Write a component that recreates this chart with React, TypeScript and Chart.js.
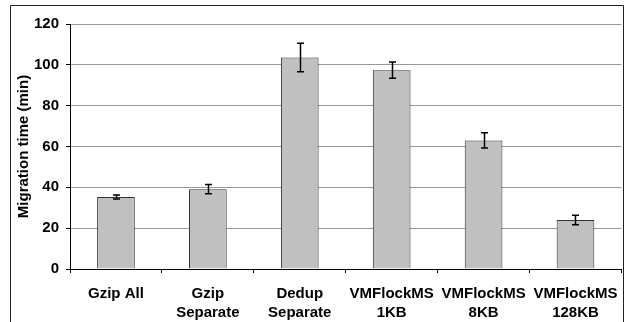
import React, { useEffect, useRef } from "react";
import { Chart, registerables } from "chart.js";

Chart.register(...registerables);

const categories: string[][] = [
  ["Gzip All"],
  ["Gzip", "Separate"],
  ["Dedup", "Separate"],
  ["VMFlockMS", "1KB"],
  ["VMFlockMS", "8KB"],
  ["VMFlockMS", "128KB"],
];
const migrationTime: number[] = [35.3, 39.1, 103.6, 97.4, 63.0, 24.0];
const errorMargin: number[] = [1.0, 2.3, 7.0, 4.0, 3.7, 2.3];
const yTicks = { min: 0, max: 120, step: 20 };
const yTitle = "Migration time (min)";

const FONT = "'Liberation Sans', Arial, Helvetica, sans-serif";

const framePlugin = {
  id: "frame",
  afterDraw(chart: any) {
    const ctx = chart.ctx;
    ctx.save();
    ctx.strokeStyle = "#222222";
    ctx.lineWidth = 1;
    ctx.beginPath();
    ctx.moveTo(10.5, 330);
    ctx.lineTo(10.5, 5.5);
    ctx.lineTo(623.5, 5.5);
    ctx.lineTo(623.5, 330);
    ctx.stroke();
    ctx.restore();
  },
};

const errorBarPlugin = {
  id: "errorBars",
  afterDatasetsDraw(chart: any) {
    const ctx = chart.ctx;
    const meta = chart.getDatasetMeta(0);
    const yScale = chart.scales.y;
    ctx.save();
    ctx.strokeStyle = "#000000";
    ctx.lineWidth = 1.5;
    meta.data.forEach((bar: any, i: number) => {
      const v = migrationTime[i];
      const e = errorMargin[i];
      const x = Math.round(bar.x) + 0.5;
      const yHi = yScale.getPixelForValue(v + e);
      const yLo = yScale.getPixelForValue(v - e);
      const cap = 3.5;
      ctx.beginPath();
      ctx.moveTo(x, yHi);
      ctx.lineTo(x, yLo);
      ctx.moveTo(x - cap, yHi);
      ctx.lineTo(x + cap, yHi);
      ctx.moveTo(x - cap, yLo);
      ctx.lineTo(x + cap, yLo);
      ctx.stroke();
    });
    ctx.restore();
  },
};

export default function App() {
  const canvasRef = useRef<HTMLCanvasElement | null>(null);

  useEffect(() => {
    if (!canvasRef.current) return;
    const chart = new Chart(canvasRef.current, {
      type: "bar",
      data: {
        labels: categories,
        datasets: [
          {
            data: migrationTime,
            backgroundColor: "#c0c0c0",
            borderColor: "#333333",
            borderWidth: 1,
            barPercentage: 0.41,
            categoryPercentage: 1,
          },
        ],
      },
      options: {
        responsive: false,
        animation: false,
        layout: { padding: { left: 10, top: 24, right: 5, bottom: 0 } },
        plugins: {
          legend: { display: false },
          tooltip: { enabled: false },
        },
        scales: {
          x: {
            type: "category",
            offset: true,
            afterFit: (s: any) => {
              s.height = 53;
            },
            grid: {
              offset: true,
              drawOnChartArea: false,
              drawTicks: true,
              tickLength: 4,
              color: "#000000",
            },
            border: { display: true, color: "#000000", width: 1 },
            ticks: {
              color: "#000000",
              padding: 11,
              maxRotation: 0,
              autoSkip: false,
              font: { family: FONT, size: 15, weight: "bold", lineHeight: 1.27 },
            },
          },
          y: {
            min: yTicks.min,
            max: yTicks.max,
            afterFit: (s: any) => {
              s.width = 60;
            },
            grid: {
              color: "#999999",
              tickColor: "#000000",
              tickLength: 4,
            },
            border: { display: true, color: "#000000", width: 1 },
            ticks: {
              stepSize: yTicks.step,
              color: "#000000",
              padding: 7,
              font: { family: FONT, size: 15, weight: "bold" },
            },
            title: {
              display: true,
              text: yTitle,
              color: "#000000",
              padding: { top: 5, bottom: 0 },
              font: { family: FONT, size: 15, weight: "bold" },
            },
          },
        },
      },
      plugins: [framePlugin, errorBarPlugin],
    });
    return () => chart.destroy();
  }, []);

  return (
    <div style={{ position: "absolute", left: 0, top: 0, width: 629, height: 322 }}>
      <canvas ref={canvasRef} width={629} height={322} style={{ display: "block" }} />
    </div>
  );
}
